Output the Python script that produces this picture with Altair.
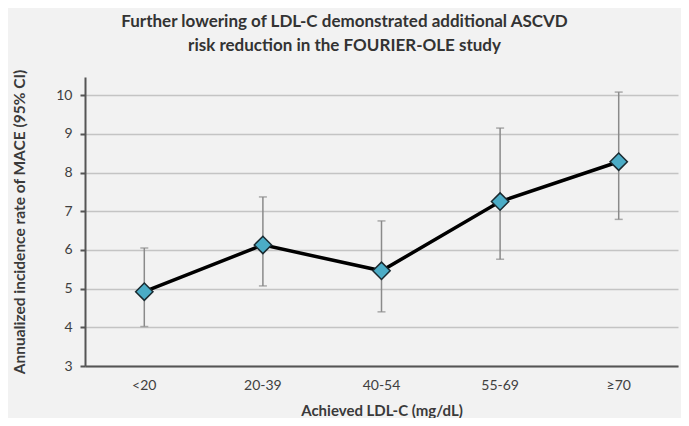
import altair as alt
import pandas as pd

categories = ["<20", "20-39", "40-54", "55-69", "\u226570"]
rate = [4.92, 6.13, 5.46, 7.25, 8.28]
lower = [4.02, 5.07, 4.40, 5.76, 6.79]
upper = [6.05, 7.37, 6.75, 9.15, 10.08]
y_ticks = [3, 4, 5, 6, 7, 8, 9, 10]

df = pd.DataFrame({"cat": categories, "rate": rate, "lo": lower, "hi": upper})

FONT = "Lato"
x_enc = alt.X(
    "cat:N",
    sort=categories,
    scale=alt.Scale(paddingInner=0, paddingOuter=0),
    axis=alt.Axis(
        title="Achieved LDL-C (mg/dL)",
        titleFont=FONT, titleFontSize=15, titleFontWeight="bold", titleColor="#3a3a3a",
        titleY=44, titleBaseline="middle",
        labelFont=FONT, labelFontSize=14, labelColor="#404040", labelAngle=0,
        labelPadding=12, ticks=False,
        domainColor="#555555", domainWidth=2, grid=False,
    ),
)
y_scale = alt.Scale(domain=[3, 10.47], nice=False, zero=False)
y_axis = alt.Axis(
    title="Annualized incidence rate of MACE  (95% CI)",
    titleFont=FONT, titleFontSize=15.5, titleFontWeight="bold", titleColor="#3a3a3a",
    titleX=-66, titleAngle=-90, titleBaseline="middle",
    values=y_ticks, labelFont=FONT, labelFontSize=14, labelColor="#404040",
    labelPadding=8, tickSize=5, tickColor="#555555", tickWidth=2,
    domainColor="#555555", domainWidth=2,
    grid=True, gridColor="#c4c4c4", gridWidth=1.6,
)

base = alt.Chart(df)

rules = base.mark_rule(color="#8a8a8a", strokeWidth=1.5).encode(
    x=x_enc, y=alt.Y("lo:Q", scale=y_scale, axis=y_axis), y2="hi:Q"
)
cap_lo = base.mark_tick(color="#8a8a8a", thickness=1.5, size=8).encode(
    x=x_enc, y=alt.Y("lo:Q", scale=y_scale)
)
cap_hi = base.mark_tick(color="#8a8a8a", thickness=1.5, size=8).encode(
    x=x_enc, y=alt.Y("hi:Q", scale=y_scale)
)
line = base.mark_line(color="#000000", strokeWidth=3.5).encode(
    x=x_enc, y=alt.Y("rate:Q", scale=y_scale)
)
pts = base.mark_point(
    shape="diamond", size=300, filled=True, fill="#4bacc6", stroke="#1a2a30",
    strokeWidth=1.5, opacity=1,
).encode(x=x_enc, y=alt.Y("rate:Q", scale=y_scale))

chart = (
    alt.layer(rules, cap_lo, cap_hi, line, pts)
    .properties(
        width=593,
        height=289,
        autosize=alt.AutoSizeParams(type="none"),
        padding={"left": 77, "top": 69, "right": 3, "bottom": 52},
        background="#f2f2f2",
        title=alt.TitleParams(
            text=["Further lowering of LDL-C demonstrated additional ASCVD",
                  "risk reduction in the FOURIER-OLE study"],
            font=FONT, fontSize=17, fontWeight="bold", color="#333333",
            anchor="middle", dx=-37, offset=12, lineHeight=24,
        ),
    )
    .configure_view(stroke=None)
)

chart.save("out.html", embed_options={"renderer": "svg", "actions": False})
